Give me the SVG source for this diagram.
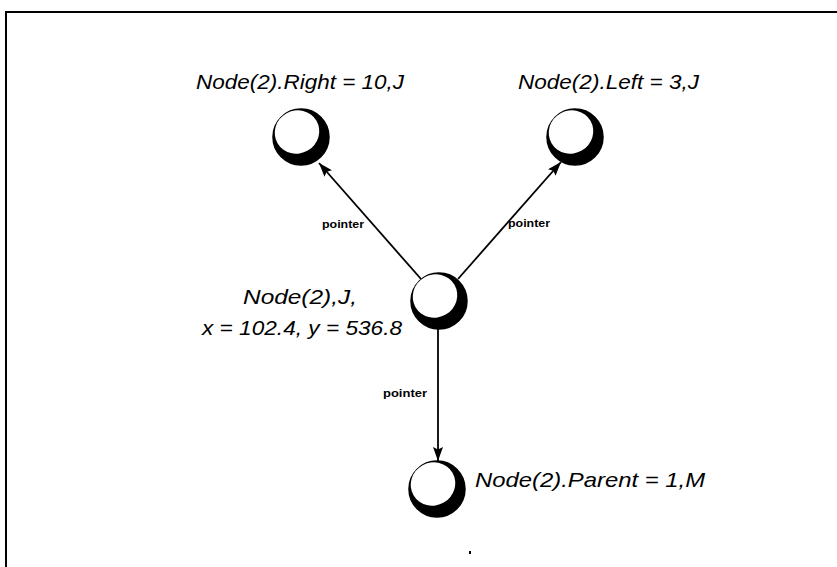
<svg xmlns="http://www.w3.org/2000/svg" width="837" height="567" viewBox="0 0 837 567">
  <defs>
    <style>
      .frame { stroke: #000; stroke-width: 2; fill: none; }
      .link { stroke: #000; stroke-width: 1.8; fill: none; }
      .label { font-family: "Liberation Sans", Arial, sans-serif; font-style: italic; font-size: 21px; fill: #000; }
      .tag { font-family: "Liberation Sans", Arial, sans-serif; font-weight: bold; font-size: 10px; fill: #000; }
      .ball-rim { fill: #000; stroke: #000; stroke-width: 2.5; }
      .ball-lit { fill: #fff; }
    </style>
    <marker id="head" viewBox="0 0 14 10" refX="14" refY="5" markerWidth="14" markerHeight="10" markerUnits="userSpaceOnUse" orient="auto">
      <path d="M0,0 L14,5 L0,10 L2.5,5 Z" fill="#000"/>
    </marker>
    <!-- shaded sphere: black disc with an off-centre white highlight -->
    <g id="ball">
      <circle class="ball-rim" cx="0" cy="0" r="27.5"/>
      <ellipse class="ball-lit" cx="-4" cy="-5" rx="22.5" ry="21.5" transform="rotate(-30 -4 -5)"/>
    </g>
  </defs>

  <rect width="837" height="567" fill="#fff"/>

  <!-- page frame -->
  <path class="frame" d="M6,567 L6,12 L837,12"/>

  <!-- connectors -->
  <g id="connectors">
    <line class="link" x1="421" y1="279" x2="319" y2="163" marker-end="url(#head)"/>
    <line class="link" x1="458" y1="279" x2="561" y2="162" marker-end="url(#head)"/>
    <line class="link" x1="438" y1="329" x2="438" y2="461" marker-end="url(#head)"/>
    <text class="tag" x="322" y="228" textLength="42" lengthAdjust="spacingAndGlyphs">pointer</text>
    <text class="tag" x="508" y="227" textLength="42" lengthAdjust="spacingAndGlyphs">pointer</text>
    <text class="tag" x="383" y="397" textLength="44" lengthAdjust="spacingAndGlyphs">pointer</text>
  </g>

  <g id="node-right">
    <use href="#ball" x="301" y="137"/>
    <text class="label" x="196" y="89" textLength="208" lengthAdjust="spacingAndGlyphs">Node(2).Right = 10,J</text>
  </g>

  <g id="node-left">
    <use href="#ball" x="575" y="137"/>
    <text class="label" x="518" y="89" textLength="181" lengthAdjust="spacingAndGlyphs">Node(2).Left = 3,J</text>
  </g>

  <g id="node-current">
    <use href="#ball" x="439" y="301"/>
    <text class="label" x="243" y="304" textLength="114" lengthAdjust="spacingAndGlyphs">Node(2),J,</text>
    <text class="label" x="202" y="335" textLength="200" lengthAdjust="spacingAndGlyphs">x = 102.4, y = 536.8</text>
  </g>

  <g id="node-parent">
    <use href="#ball" x="437" y="489"/>
    <text class="label" x="475" y="487" textLength="230" lengthAdjust="spacingAndGlyphs">Node(2).Parent = 1,M</text>
  </g>

  <!-- speck -->
  <rect x="469" y="551" width="2" height="3" fill="#000"/>
</svg>
